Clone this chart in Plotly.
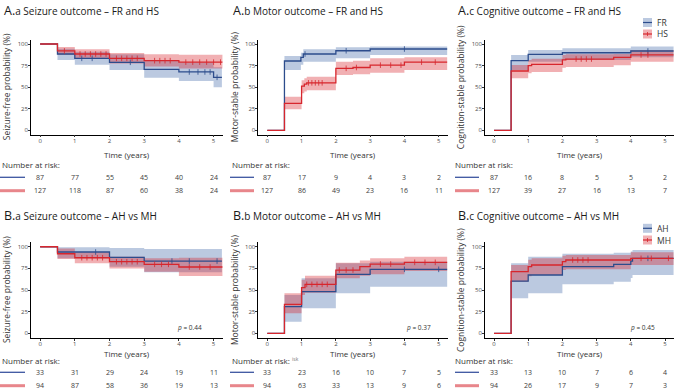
import plotly.graph_objects as go

W, H = 675, 389

# ---------------- data ----------------
RISK_TIMES = [0, 1, 2, 3, 4, 5]
X_TICKS = [0, 1, 2, 3, 4, 5]
Y_TICKS = [0, 25, 50, 75, 100]

# A.a Seizure outcome - FR (blue) and HS (red)
AA_t_fr = [0, 0.5, 1.0, 2.0, 3.0, 4.0, 5.0, 5.24]
AA_s_fr = [100, 88.4, 83.4, 78.8, 70.7, 67.6, 61.4, 61.4]
AA_lo_fr = [100, 81.5, 76.0, 70.0, 61.0, 57.0, 50.0, 50.0]
AA_hi_fr = [100, 94.5, 91.0, 88.0, 81.5, 78.5, 73.0, 73.0]
AA_c_fr = [1.2, 1.5, 2.6, 4.3, 4.55, 4.75, 4.9, 5.1]
AA_t_hs = [0, 0.5, 1.0, 2.0, 3.0, 4.0, 5.26]
AA_s_hs = [100, 92.0, 88.4, 83.4, 80.7, 79.0, 79.0]
AA_lo_hs = [100, 87.5, 83.0, 77.5, 74.0, 71.5, 71.5]
AA_hi_hs = [100, 96.5, 93.8, 89.5, 88.0, 87.5, 87.5]
AA_c_hs = [0.7, 1.15, 1.3, 1.45, 1.6, 1.75, 1.9, 2.2, 2.35, 2.5, 2.65, 2.8,
           3.3, 3.45, 3.6, 3.75, 4.2, 4.4, 4.6, 4.8, 5.0, 5.2]
AA_r_fr = [87, 77, 55, 45, 40, 24]
AA_r_hs = [127, 118, 87, 60, 38, 24]

# A.b Motor outcome - FR and HS
AB_t_fr = [0, 0.5, 0.98, 1.05, 2.0, 3.0, 5.25]
AB_s_fr = [0, 80.3, 84.6, 88.4, 92.2, 94.2, 94.2]
AB_lo_fr = [0, 70.0, 76.0, 79.5, 83.4, 87.3, 87.3]
AB_hi_fr = [0, 86.0, 90.0, 93.8, 96.2, 97.0, 97.0]
AB_c_fr = [1.1, 2.3, 4.0]
AB_t_hs = [0, 0.5, 1.0, 1.08, 1.15, 2.0, 2.5, 3.0, 4.0, 5.25]
AB_s_hs = [0, 31.3, 51.3, 53.5, 55.0, 71.8, 72.8, 75.5, 79.0, 79.0]
AB_lo_hs = [0, 24.3, 42.9, 45.0, 46.5, 64.0, 65.0, 66.8, 69.9, 69.9]
AB_hi_hs = [0, 39.0, 58.0, 60.2, 62.0, 79.5, 80.5, 83.4, 84.6, 84.6]
AB_c_hs = [1.2, 1.3, 1.4, 1.5, 1.6, 2.3, 2.6, 3.3, 3.6, 3.9, 4.5, 4.9]
AB_r_fr = [87, 17, 9, 4, 3, 2]
AB_r_hs = [127, 86, 49, 23, 16, 11]

# A.c Cognitive outcome - FR and HS
AC_t_fr = [0, 0.5, 1.0, 2.0, 4.0, 5.25]
AC_s_fr = [0, 80.7, 88.0, 89.9, 91.9, 91.9]
AC_lo_fr = [0, 70.0, 79.5, 81.5, 84.6, 84.6]
AC_hi_fr = [0, 87.3, 93.0, 95.0, 97.0, 97.0]
AC_c_fr = [4.5]
AC_t_hs = [0, 0.5, 1.0, 1.1, 2.0, 2.1, 3.5, 4.0, 5.25]
AC_s_hs = [0, 68.7, 74.9, 76.4, 81.5, 82.6, 84.6, 87.3, 87.3]
AC_lo_hs = [0, 60.2, 66.0, 67.5, 72.5, 73.5, 75.3, 79.5, 79.5]
AC_hi_hs = [0, 75.7, 81.5, 83.0, 87.3, 88.0, 88.4, 93.0, 93.0]
AC_c_hs = [2.4, 2.55, 2.7, 2.85, 4.3, 4.5]
AC_r_fr = [87, 16, 8, 5, 5, 2]
AC_r_hs = [127, 39, 27, 16, 13, 7]

# B.a Seizure outcome - AH (blue) vs MH (red)
BA_t_ah = [0, 0.5, 2.0, 3.0, 5.24]
BA_s_ah = [100, 93.9, 87.8, 83.5, 83.5]
BA_lo_ah = [100, 86.6, 77.0, 70.5, 70.5]
BA_hi_ah = [100, 99.5, 98.5, 97.5, 97.5]
BA_c_ah = [1.6, 3.8, 4.3, 5.1]
BA_t_mh = [0, 0.5, 1.0, 2.0, 3.0, 4.0, 5.26]
BA_s_mh = [100, 91.9, 87.3, 82.7, 79.7, 76.6, 76.6]
BA_lo_mh = [100, 85.8, 80.8, 75.0, 71.2, 66.2, 66.2]
BA_hi_mh = [100, 98.0, 93.5, 88.5, 86.6, 87.3, 87.3]
BA_c_mh = [1.2, 1.35, 1.5, 1.65, 1.8, 2.2, 2.35, 2.5, 2.65, 2.8, 3.3, 3.5,
           3.7, 4.3, 4.6, 4.9]
BA_r_ah = [33, 31, 29, 24, 19, 11]
BA_r_mh = [94, 87, 58, 36, 19, 13]

# B.b Motor outcome - AH vs MH
BB_t_ah = [0, 0.5, 1.0, 2.0, 3.0, 5.25]
BB_s_ah = [0, 30.8, 48.1, 68.2, 73.9, 73.9]
BB_lo_ah = [0, 13.5, 29.0, 46.2, 53.9, 53.9]
BB_hi_ah = [0, 44.3, 63.6, 80.9, 82.7, 82.7]
BB_c_ah = [1.0, 4.0, 5.0]
BB_t_mh = [0, 0.5, 1.0, 1.1, 2.0, 2.7, 3.0, 4.0, 5.25]
BB_s_mh = [0, 33.5, 52.7, 56.6, 73.1, 77.0, 80.0, 82.0, 82.0]
BB_lo_mh = [0, 23.2, 44.3, 47.0, 63.6, 66.5, 68.2, 72.0, 72.0]
BB_hi_mh = [0, 46.2, 62.0, 66.6, 81.6, 84.0, 86.6, 88.5, 88.5]
BB_c_mh = [1.15, 1.3, 1.45, 1.6, 1.75, 2.1, 2.3, 2.5, 3.3, 3.6, 4.3, 4.6, 4.9]
BB_r_ah = [33, 23, 16, 10, 7, 5]
BB_r_mh = [94, 63, 33, 13, 9, 6]

# B.c Cognitive outcome - AH vs MH
BC_t_ah = [0, 0.5, 1.0, 2.0, 3.5, 4.0, 4.05, 5.25]
BC_s_ah = [0, 60.4, 67.4, 77.0, 79.7, 83.5, 86.6, 86.6]
BC_lo_ah = [0, 40.5, 46.2, 56.6, 59.6, 64.0, 67.4, 67.4]
BC_hi_ah = [0, 80.9, 88.5, 92.0, 93.0, 94.5, 96.2, 96.2]
BC_c_ah = [4.5]
BC_t_mh = [0, 0.5, 1.0, 1.1, 2.0, 2.1, 4.0, 5.25]
BC_s_mh = [0, 71.2, 77.0, 78.9, 82.7, 84.7, 86.6, 86.6]
BC_lo_mh = [0, 59.6, 66.0, 67.4, 73.1, 74.0, 78.9, 78.9]
BC_hi_mh = [0, 78.9, 85.0, 86.6, 89.6, 90.5, 93.5, 93.5]
BC_c_mh = [2.3, 2.45, 2.6, 2.75, 4.3, 4.6, 5.1]
BC_r_ah = [33, 13, 10, 7, 6, 4]
BC_r_mh = [94, 26, 17, 9, 7, 3]

P_VALUES = ["0.44", "0.37", "0.45"]

# ---------------- style ----------------
FONT = "Open Sans"
BLUE = "#2c4c8c"
RED = "#d7262d"
BLUE_BAND = "rgba(60,100,165,0.35)"
RED_BAND = "rgba(215,35,45,0.36)"
RISK_BLUE = "#3b55a0"
RISK_RED = "#e8868b"
TXT = "#333333"
TICK = "#4d4d4d"

def px(x):
    return x / W

def py(y):
    return 1 - y / H

COL_X = [(31, 222.7), (258.3, 447.7), (485, 674)]
ROW_Y = [(39.7, 134.6), (242.4, 337.7)]
X_RANGE = [-0.263, 5.263]
TITLE_X = [1.5, 231, 456]
YTITLE_X = [6, 234, 460]
RISK_LABEL_X = [0, 230, 453]
RISK_LINE_X = [(0, 25), (230, 254), (455, 479)]
ROW_TEXT = [
    dict(title=10, time=154, nar=164.3, r1=177.3, r2=190.7, p=None),
    dict(title=215.7, time=353.6, nar=360.5, r1=372.3, r2=385.7, p=327),
]
P_X = [189, 418, 642]

panels = [
    dict(row=0, col=0, big="A.", title="a Seizure outcome – FR and HS",
         ytitle="Seizure-free probability (%)",
         s1=(AA_t_fr, AA_s_fr, AA_lo_fr, AA_hi_fr, AA_c_fr),
         s2=(AA_t_hs, AA_s_hs, AA_lo_hs, AA_hi_hs, AA_c_hs),
         r1=AA_r_fr, r2=AA_r_hs, legend=None),
    dict(row=0, col=1, big="A.", title="b Motor outcome – FR and HS",
         ytitle="Motor-stable probability (%)",
         s1=(AB_t_fr, AB_s_fr, AB_lo_fr, AB_hi_fr, AB_c_fr),
         s2=(AB_t_hs, AB_s_hs, AB_lo_hs, AB_hi_hs, AB_c_hs),
         r1=AB_r_fr, r2=AB_r_hs, legend=None),
    dict(row=0, col=2, big="A.", title="c Cognitive outcome – FR and HS",
         ytitle="Cognition-stable probability (%)",
         s1=(AC_t_fr, AC_s_fr, AC_lo_fr, AC_hi_fr, AC_c_fr),
         s2=(AC_t_hs, AC_s_hs, AC_lo_hs, AC_hi_hs, AC_c_hs),
         r1=AC_r_fr, r2=AC_r_hs, legend=("FR", "HS", 22.5, 34)),
    dict(row=1, col=0, big="B.", title="a Seizure outcome – AH vs MH",
         ytitle="Seizure-free probability (%)",
         s1=(BA_t_ah, BA_s_ah, BA_lo_ah, BA_hi_ah, BA_c_ah),
         s2=(BA_t_mh, BA_s_mh, BA_lo_mh, BA_hi_mh, BA_c_mh),
         r1=BA_r_ah, r2=BA_r_mh, legend=None),
    dict(row=1, col=1, big="B.", title="b Motor outcome – AH vs MH",
         ytitle="Motor-stable probability (%)",
         s1=(BB_t_ah, BB_s_ah, BB_lo_ah, BB_hi_ah, BB_c_ah),
         s2=(BB_t_mh, BB_s_mh, BB_lo_mh, BB_hi_mh, BB_c_mh),
         r1=BB_r_ah, r2=BB_r_mh, legend=None),
    dict(row=1, col=2, big="B.", title="c Cognitive outcome – AH vs MH",
         ytitle="Cognition-stable probability (%)",
         s1=(BC_t_ah, BC_s_ah, BC_lo_ah, BC_hi_ah, BC_c_ah),
         s2=(BC_t_mh, BC_s_mh, BC_lo_mh, BC_hi_mh, BC_c_mh),
         r1=BC_r_ah, r2=BC_r_mh, legend=("AH", "MH", 228.3, 240)),
]


def step_value(t, s, x):
    v = s[0]
    for ti, si in zip(t, s):
        if ti <= x:
            v = si
    return v


fig = go.Figure()
annotations = []
shapes = []
layout_axes = {}

for i, p in enumerate(panels):
    k = i + 1
    xa = "x" if k == 1 else f"x{k}"
    ya = "y" if k == 1 else f"y{k}"
    c, r = p["col"], p["row"]
    x0, x1 = COL_X[c]
    y0, y1 = ROW_Y[r]

    series = [(p["s1"], BLUE, BLUE_BAND), (p["s2"], RED, RED_BAND)]
    for (t, s, lo, hi, cens), lc, bc in series:
        fig.add_trace(go.Scatter(x=t, y=hi, mode="lines", line=dict(width=0, shape="hv"),
                                 hoverinfo="skip", showlegend=False, xaxis=xa, yaxis=ya))
        fig.add_trace(go.Scatter(x=t, y=lo, mode="lines", line=dict(width=0, shape="hv"),
                                 fill="tonexty", fillcolor=bc,
                                 hoverinfo="skip", showlegend=False, xaxis=xa, yaxis=ya))
    for (t, s, lo, hi, cens), lc, bc in series:
        fig.add_trace(go.Scatter(x=t, y=s, mode="lines", line=dict(color=lc, width=1.3, shape="hv"),
                                 showlegend=False, xaxis=xa, yaxis=ya))
        fig.add_trace(go.Scatter(x=cens, y=[step_value(t, s, cx) for cx in cens], mode="markers",
                                 marker=dict(symbol="line-ns", size=4,
                                             line=dict(color=lc, width=0.8)),
                                 showlegend=False, xaxis=xa, yaxis=ya))

    axis_style = dict(showline=True, linecolor="black", linewidth=0.7, ticks="outside",
                      ticklen=2, tickwidth=0.7, tickcolor="#333333",
                      tickfont=dict(size=6, color=TICK, family=FONT),
                      showgrid=False, zeroline=False, fixedrange=True)
    layout_axes["xaxis" if k == 1 else f"xaxis{k}"] = dict(
        domain=[px(x0), px(x1)], range=X_RANGE, tickvals=X_TICKS,
        anchor=ya, ticklabelstandoff=-2, **axis_style)
    layout_axes["yaxis" if k == 1 else f"yaxis{k}"] = dict(
        domain=[py(y1), py(y0)], range=[-5, 105], tickvals=Y_TICKS,
        anchor=xa, ticklabelstandoff=-1, **axis_style)

    rt = ROW_TEXT[r]
    annotations.append(dict(
        x=px(TITLE_X[c]), y=py(rt["title"]), xref="paper", yref="paper",
        xanchor="left", yanchor="middle", showarrow=False,
        text=f"<span style='font-size:12.5px'>{p['big']}</span>{p['title']}",
        font=dict(size=10, color="#1a1a1a", family=FONT)))
    annotations.append(dict(
        x=px(YTITLE_X[c]), y=py((y0 + y1) / 2), xref="paper", yref="paper",
        xanchor="center", yanchor="middle", showarrow=False, textangle=-90,
        text=p["ytitle"], font=dict(size=8.5, color=TXT, family=FONT)))
    annotations.append(dict(
        x=2.5, y=py(rt["time"]), xref=xa, yref="paper",
        xanchor="center", yanchor="middle", showarrow=False,
        text="Time (years)", font=dict(size=8, color=TXT, family=FONT)))
    annotations.append(dict(
        x=px(RISK_LABEL_X[c]), y=py(rt["nar"]), xref="paper", yref="paper",
        xanchor="left", yanchor="middle", showarrow=False,
        text="Number at risk:", font=dict(size=8, color=TXT, family=FONT)))
    for vals, ry, lcol, lw in [(p["r1"], rt["r1"], RISK_BLUE, 1.3), (p["r2"], rt["r2"], RISK_RED, 3)]:
        lx0, lx1 = RISK_LINE_X[c]
        shapes.append(dict(type="line", xref="paper", yref="paper",
                           x0=px(lx0), x1=px(lx1), y0=py(ry), y1=py(ry),
                           line=dict(color=lcol, width=lw)))
        for tx, v in zip(RISK_TIMES, vals):
            annotations.append(dict(
                x=tx, y=py(ry), xref=xa, yref="paper",
                xanchor="center", yanchor="middle", showarrow=False,
                text=str(v), font=dict(size=7, color="#3c3c3c", family=FONT)))
    if r == 1:
        annotations.append(dict(
            x=px(P_X[c]), y=py(rt["p"]), xref="paper", yref="paper",
            xanchor="center", yanchor="middle", showarrow=False,
            text=f"<i>p</i> = {P_VALUES[c]}", font=dict(size=6.5, color=TXT, family=FONT)))
    if p["legend"]:
        n1, n2, ly1, ly2 = p["legend"]
        for name, ly, lc, bc, tick in [(n1, ly1, BLUE, BLUE_BAND, False), (n2, ly2, RED, RED_BAND, True)]:
            kx0, kx1 = 643, 652
            shapes.append(dict(type="rect", xref="paper", yref="paper",
                               x0=px(kx0), x1=px(kx1), y0=py(ly + 4.5), y1=py(ly - 4.5),
                               fillcolor=bc, line=dict(width=0)))
            shapes.append(dict(type="line", xref="paper", yref="paper",
                               x0=px(kx0), x1=px(kx1), y0=py(ly), y1=py(ly),
                               line=dict(color=lc, width=1.2)))
            if tick:
                shapes.append(dict(type="line", xref="paper", yref="paper",
                                   x0=px((kx0 + kx1) / 2), x1=px((kx0 + kx1) / 2),
                                   y0=py(ly - 2), y1=py(ly + 2),
                                   line=dict(color=lc, width=0.8)))
            annotations.append(dict(
                x=px(655), y=py(ly), xref="paper", yref="paper",
                xanchor="left", yanchor="middle", showarrow=False,
                text=name, font=dict(size=8.5, color=TXT, family=FONT)))

annotations.append(dict(
    x=px(290), y=py(359), xref="paper", yref="paper",
    xanchor="left", yanchor="middle", showarrow=False,
    text="isk", font=dict(size=5, color="#777777", family=FONT)))

fig.update_layout(
    width=W, height=H,
    margin=dict(l=0, r=0, t=0, b=0),
    paper_bgcolor="white", plot_bgcolor="white",
    showlegend=False,
    font=dict(family=FONT, color=TXT),
    annotations=annotations,
    shapes=shapes,
    **layout_axes,
)

fig.write_html("out.html", config={"displayModeBar": False},
               post_script="document.body.style.margin='0';document.body.style.overflow='hidden';")
